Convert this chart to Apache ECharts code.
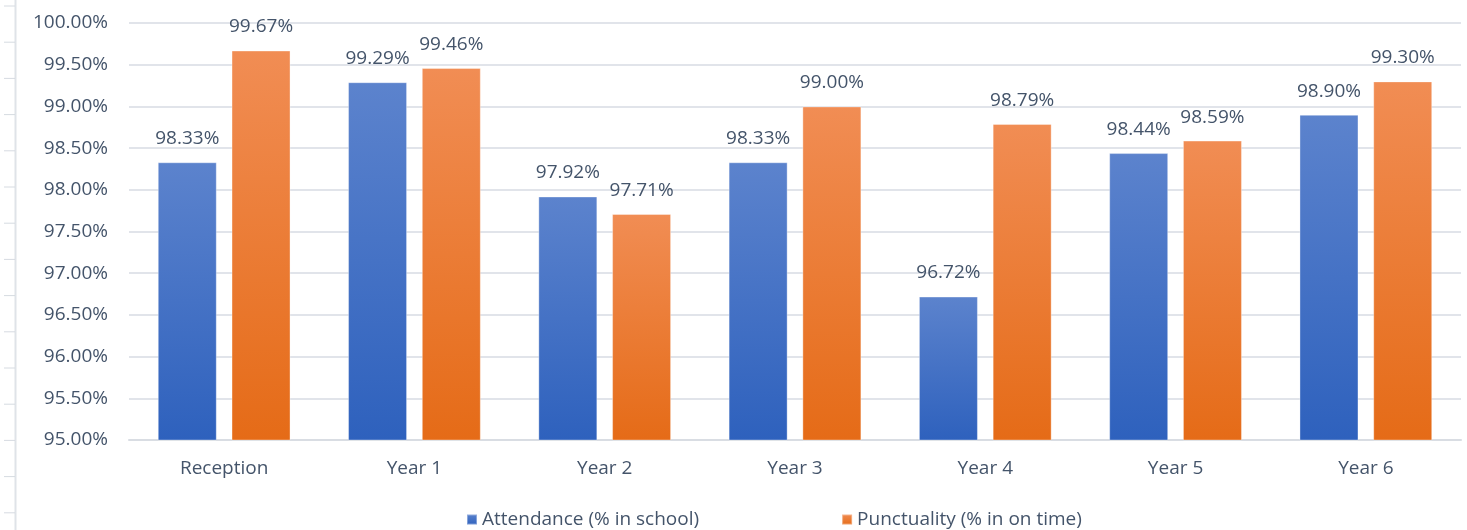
<!DOCTYPE html>
<html>
<head>
<meta charset="utf-8">
<style>
html,body{margin:0;padding:0;background:#fff;}
#chart{width:1467px;height:530px;}
</style>
<script src="https://cdn.jsdelivr.net/npm/echarts@6/dist/echarts.min.js"></script>
</head>
<body>
<div id="chart"></div>
<script>
const categories = ['Reception', 'Year 1', 'Year 2', 'Year 3', 'Year 4', 'Year 5', 'Year 6'];
const attendance = [98.33, 99.29, 97.92, 98.33, 96.72, 98.44, 98.90];
const punctuality = [99.67, 99.46, 97.71, 99.00, 98.79, 98.59, 99.30];
const seriesNames = ['Attendance (% in school)', 'Punctuality (% in on time)'];
const yMin = 95, yMax = 100, yStep = 0.5;

const textColor = '#44546a';
const font = '"Open Sans", "Noto Sans", sans-serif';
const chart = echarts.init(document.getElementById('chart'));

const leftDeco = [{type:'line', shape:{x1:15.5,y1:0,x2:15.5,y2:530}, style:{stroke:'#dfe3e8', lineWidth:2}}];
for (let i = 0; i < 15; i++) {
  const y = 6 + i * 36.2;
  leftDeco.push({type:'line', shape:{x1:4,y1:y,x2:15,y2:y}, style:{stroke:'#d6dbe1', lineWidth:1}});
}

function grad(top, bottom) {
  return new echarts.graphic.LinearGradient(0, 0, 0, 1, [{offset:0, color:top}, {offset:1, color:bottom}]);
}

chart.setOption({
  animation: false,
  textStyle: {fontFamily: font},
  graphic: leftDeco,
  grid: {left: 129, right: 6, top: 23, bottom: 90},
  legend: {
    left: 461, top: 505, itemWidth: 10, itemHeight: 10, itemGap: 142,
    icon: 'rect',
    textStyle: {color: textColor, fontSize: 19, fontFamily: font},
    data: seriesNames
  },
  xAxis: {
    type: 'category', data: categories,
    axisLine: {lineStyle: {color: '#d9dde3', width: 2}},
    axisTick: {show: false},
    axisLabel: {color: textColor, fontSize: 19, margin: 19}
  },
  yAxis: {
    type: 'value', min: yMin, max: yMax, interval: yStep,
    axisLine: {show: false}, axisTick: {show: false},
    splitLine: {lineStyle: {color: '#e1e4ea', width: 2}},
    axisLabel: {color: textColor, fontSize: 19, margin: 21,
      formatter: v => v.toFixed(2) + '%'}
  },
  series: [
    {
      name: seriesNames[0], type: 'bar', data: attendance,
      barWidth: 59, barGap: '25%',
      itemStyle: {color: grad('#5c83cd', '#2e61bd'), borderColor: 'rgba(255,255,255,0.35)', borderWidth: 1},
      label: {show: true, position: 'top', distance: 14, color: textColor, fontSize: 19,
        formatter: p => p.value.toFixed(2) + '%'}
    },
    {
      name: seriesNames[1], type: 'bar', data: punctuality,
      barWidth: 59,
      itemStyle: {color: grad('#f18d54', '#e56b17'), borderColor: 'rgba(255,255,255,0.35)', borderWidth: 1},
      label: {show: true, position: 'top', distance: 14, color: textColor, fontSize: 19,
        formatter: p => p.value.toFixed(2) + '%'}
    }
  ]
});
</script>
</body>
</html>
